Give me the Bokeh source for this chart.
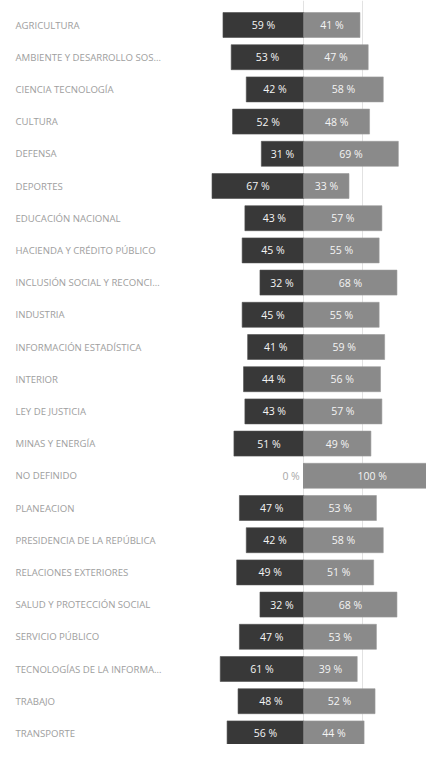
from bokeh.plotting import figure
from bokeh.models import ColumnDataSource, Range1d, FixedTicker
from bokeh.core.properties import value
from bokeh.embed import file_html
from bokeh.resources import INLINE

categories = [
    "AGRICULTURA",
    "AMBIENTE Y DESARROLLO SOS…",
    "CIENCIA TECNOLOGÍA",
    "CULTURA",
    "DEFENSA",
    "DEPORTES",
    "EDUCACIÓN NACIONAL",
    "HACIENDA Y CRÉDITO PÚBLICO",
    "INCLUSIÓN SOCIAL Y RECONCI…",
    "INDUSTRIA",
    "INFORMACIÓN ESTADÍSTICA",
    "INTERIOR",
    "LEY DE JUSTICIA",
    "MINAS Y ENERGÍA",
    "NO DEFINIDO",
    "PLANEACION",
    "PRESIDENCIA DE LA REPÚBLICA",
    "RELACIONES EXTERIORES",
    "SALUD Y PROTECCIÓN SOCIAL",
    "SERVICIO PÚBLICO",
    "TECNOLOGÍAS DE LA INFORMA…",
    "TRABAJO",
    "TRANSPORTE",
]
dark_pct = [59, 53, 42, 52, 31, 67, 43, 45, 32, 45, 41, 44, 43, 51, 0, 47, 42, 49, 32, 47, 61, 48, 56]
light_pct = [41, 47, 58, 48, 69, 33, 57, 55, 68, 55, 59, 56, 57, 49, 100, 53, 58, 51, 68, 53, 39, 52, 44]

W, H = 426, 744
scale = 1.37          # px per percent
center_px = 303.3     # frame px of the zero line
x0 = -center_px / scale
x1 = (W - center_px) / scale

pitch = 32.2          # px per row
first_px = 24.5       # frame px of first row centre
y_top = first_px / pitch
y_bot = y_top - H / pitch

n = len(categories)
rows = [-i for i in range(n)]

p = figure(width=W, height=H, output_backend="svg", toolbar_location=None,
           x_range=Range1d(x0, x1), y_range=Range1d(y_bot, y_top),
           min_border=0, min_border_left=0, min_border_right=0,
           min_border_top=0, min_border_bottom=0)
p.outline_line_color = None
p.xaxis.visible = False
p.yaxis.visible = False
p.ygrid.grid_line_color = None
p.xgrid.ticker = FixedTicker(ticks=[0, 43])
p.xgrid.grid_line_color = "#e2e2e2"
p.xgrid.grid_line_width = 1
p.background_fill_color = "white"
p.border_fill_color = "white"

src = ColumnDataSource(dict(
    cat=categories,
    row=rows,
    left=[-v for v in dark_pct],
    right=light_pct,
    zero=[0] * n,
    dmid=[-v / 2 if v > 0 else 0 for v in dark_pct],
    lmid=[v / 2 for v in light_pct],
    dlab=[f"{v} %" for v in dark_pct],
    llab=[f"{v} %" for v in light_pct],
    dcol=["#f4f4f4" if v > 0 else "#a8a8a8" for v in dark_pct],
    dalign=["center" if v > 0 else "right" for v in dark_pct],
    doff=[0 if v > 0 else -4 for v in dark_pct],
    lx=[x0] * n,
))

bh = 25 / pitch
p.hbar(y="row", left="left", right="zero", height=bh, source=src,
       fill_color="#383838", line_color="#505050", line_width=0.6)
p.hbar(y="row", left="zero", right="right", height=bh, source=src,
       fill_color="#8a8a8a", line_color="#9a9a9a", line_width=0.6)

p.text(x="dmid", y="row", text="dlab", source=src, text_color="dcol",
       text_align="dalign", x_offset="doff", text_baseline="middle",
       text_font=value("Open Sans"), text_font_size="10.5px")
p.text(x="lmid", y="row", text="llab", source=src, text_color="#f4f4f4",
       text_align="center", text_baseline="middle",
       text_font=value("Open Sans"), text_font_size="10.5px")

p.text(x="lx", y="row", text="cat", source=src, x_offset=15,
       text_color="#9e9e9e", text_align="left", text_baseline="middle",
       text_font=value("Open Sans"), text_font_size="9.6px")

open("out.html", "w").write(file_html(p, INLINE))
